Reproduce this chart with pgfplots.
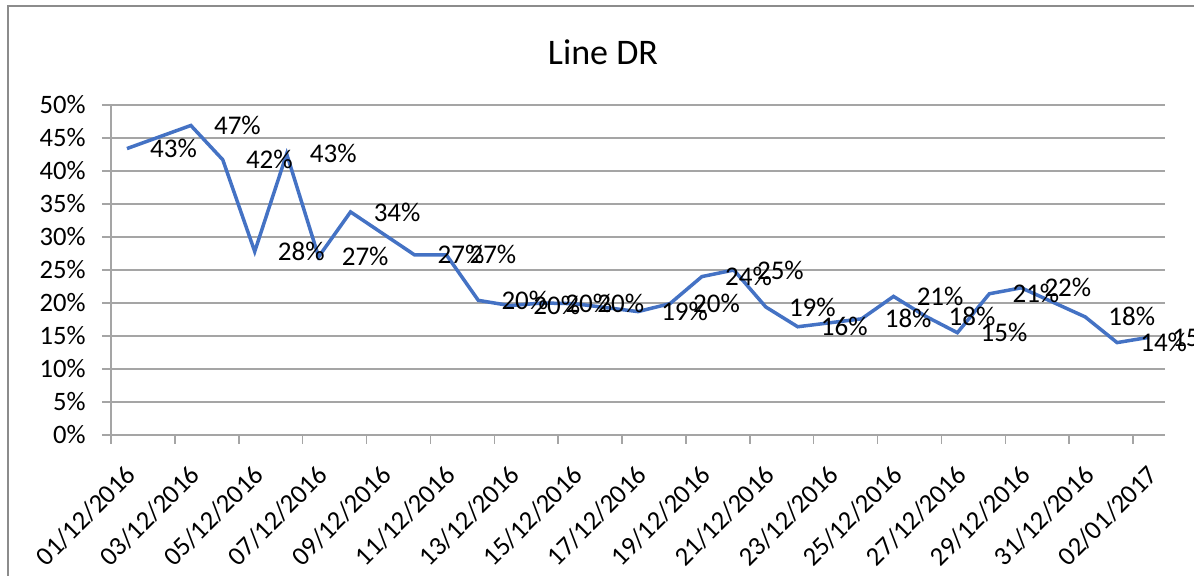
\documentclass[border=0pt]{standalone}
\usepackage{pgfplots}
\pgfplotsset{compat=1.18}
\usepackage{pgfplotstable}
\usepackage{fontspec}
\setmainfont{Carlito}
\definecolor{gridgray}{RGB}{165,165,165}
\definecolor{framegray}{RGB}{140,140,140}
\definecolor{xlblue}{RGB}{68,114,196}
\pgfplotstableread{
x y lab
0.5 43.4 43
2.5 46.9 47
3.5 41.7 42
4.5 27.8 28
5.5 42.6 43
6.5 27.0 27
7.5 33.8 34
9.5 27.3 27
10.5 27.3 27
11.5 20.4 20
12.5 19.6 20
13.5 20.0 20
14.5 19.9 20
16.5 18.7 19
17.5 19.9 20
18.5 24.0 24
19.5 25.0 25
20.5 19.4 19
21.5 16.4 16
23.5 17.6 18
24.5 21.0 21
25.5 18.0 18
26.5 15.5 15
27.5 21.4 21
28.5 22.3 22
30.5 17.9 18
31.5 14.0 14
32.5 14.8 15
}\drdata
\begin{document}
\begin{tikzpicture}
\useasboundingbox (0,0) rectangle (597pt,-288pt);
\clip (0,0) rectangle (597pt,-288pt);
\draw[framegray, line width=0.6pt] (4pt,-300pt) -- (4pt,-3pt) -- (610pt,-3pt);
\node at (301.5pt,-26pt) {\fontsize{18}{20}\selectfont Line DR};
\begin{axis}[
  at={(55.5pt,-217.5pt)}, anchor=south west,
  scale only axis, width=527pt, height=165pt,
  xmin=0, xmax=33, ymin=0, ymax=50,
  clip=false,
  axis lines*=left,
  axis line style={draw=gridgray, line width=0.75pt, -},
  tick style={draw=gridgray, line width=0.75pt},
  major tick length=4.5pt, tick align=outside,
  xtick={0,2,...,32},
  xticklabels={01/12/2016,03/12/2016,05/12/2016,07/12/2016,09/12/2016,11/12/2016,13/12/2016,15/12/2016,17/12/2016,19/12/2016,21/12/2016,23/12/2016,25/12/2016,27/12/2016,29/12/2016,31/12/2016,02/01/2017},
  ytick={0,5,...,50},
  yticklabels={0\%,5\%,10\%,15\%,20\%,25\%,30\%,35\%,40\%,45\%,50\%},
  ymajorgrids, grid style={gridgray, line width=0.75pt},
  tick label style={font=\fontsize{13.3}{15}\selectfont, text=black},
  xticklabel style={rotate=45, anchor=east, inner sep=0pt, xshift=-2pt, yshift=-16.5pt},
  yticklabel style={anchor=east, inner sep=0pt, xshift=-8pt},
  point meta=explicit symbolic,
  nodes near coords={\pgfplotspointmeta\%},
  every node near coord/.append style={anchor=west, inner sep=0pt, xshift=10.75pt, yshift=0pt, font=\fontsize{13.5}{15}\selectfont, text=black},
]
\addplot[xlblue, line width=1.75pt, mark=none] table[x=x, y=y, meta=lab] {\drdata};
\end{axis}
\end{tikzpicture}
\end{document}
